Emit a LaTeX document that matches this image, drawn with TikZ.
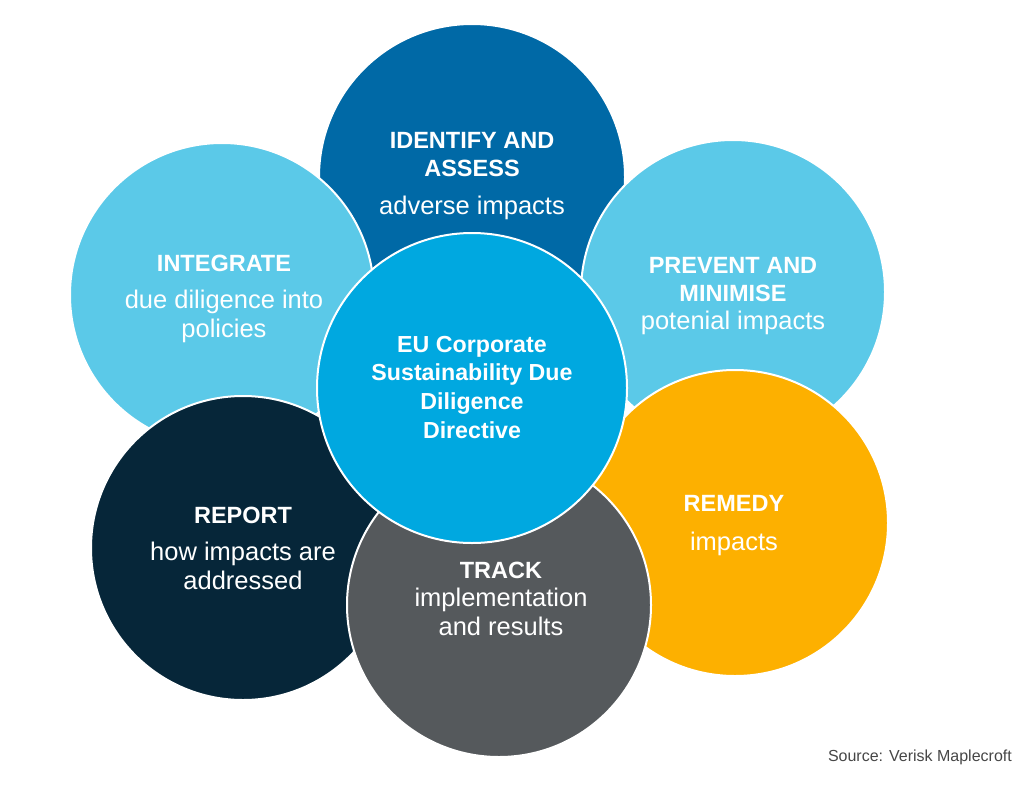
\documentclass[tikz,border=0pt]{standalone}
\usepackage{fontspec}
\setmainfont{Liberation Sans}
\definecolor{cidentify}{RGB}{0,105,166}
\definecolor{clight}{RGB}{91,201,232}
\definecolor{ccenter}{RGB}{0,168,224}
\definecolor{cremedy}{RGB}{253,176,0}
\definecolor{ctrack}{RGB}{85,89,92}
\definecolor{creport}{RGB}{6,38,57}
\definecolor{csource}{RGB}{70,70,70}
\begin{document}
\begin{tikzpicture}[x=1pt,y=-1pt,
  disc/.style={circle, inner sep=0pt, minimum size=#1, draw=white, line width=2pt},
  ttl/.style={text=white, inner sep=0pt, anchor=base, font=\fontsize{23.5}{28}\selectfont\bfseries},
  bdy/.style={text=white, inner sep=0pt, anchor=base, font=\fontsize{25.5}{29}\selectfont},
  ctr/.style={text=white, inner sep=0pt, anchor=base, font=\fontsize{23.2}{28}\selectfont\bfseries}]
\useasboundingbox (0,0) rectangle (1035,784);
% circles, back to front
\node[disc=306, fill=cidentify] (identify) at (472,177) {};
\node[disc=304, fill=clight] (integrate) at (222,295) {};
\node[disc=304, fill=clight] (prevent) at (733,292) {};
\node[disc=306, fill=cremedy] (remedy) at (735,523) {};
\node[disc=304, fill=creport] (report) at (243,548) {};
\node[disc=304, fill=ctrack] (track) at (499,605) {};
\node[disc=310, fill=ccenter] (center) at (472,388) {};
% texts
\node[ttl] (id1) at (472,148) {IDENTIFY AND};
\node[ttl] (id2) at (472,176) {ASSESS};
\node[bdy] (id3) at (472,214) {adverse impacts};
\node[ttl] (in1) at (224,271) {INTEGRATE};
\node[bdy] (in2) at (224,308) {due diligence into};
\node[bdy] (in3) at (224,337) {policies};
\node[ttl] (pr1) at (733,273) {PREVENT AND};
\node[ttl] (pr2) at (733,301) {MINIMISE};
\node[bdy] (pr3) at (733,329) {potenial impacts};
\node[ttl] (re1) at (734,511) {REMEDY};
\node[bdy] (re2) at (734,550) {impacts};
\node[ttl] (rp1) at (243,523) {REPORT};
\node[bdy] (rp2) at (243,560) {how impacts are};
\node[bdy] (rp3) at (243,589) {addressed};
\node[ttl] (tr1) at (501,578) {TRACK};
\node[bdy] (tr2) at (501,606) {implementation};
\node[bdy] (tr3) at (501,635) {and results};
\node[ctr] (c1) at (472,352) {EU Corporate};
\node[ctr] (c2) at (472,380) {Sustainability Due};
\node[ctr] (c3) at (472,409) {Diligence};
\node[ctr] (c4) at (472,438) {Directive};
\node[anchor=east, inner sep=0pt, text=csource, font=\fontsize{16}{19}\selectfont] (source) at (1012,757) {Source: Verisk Maplecroft};
\end{tikzpicture}
\end{document}
